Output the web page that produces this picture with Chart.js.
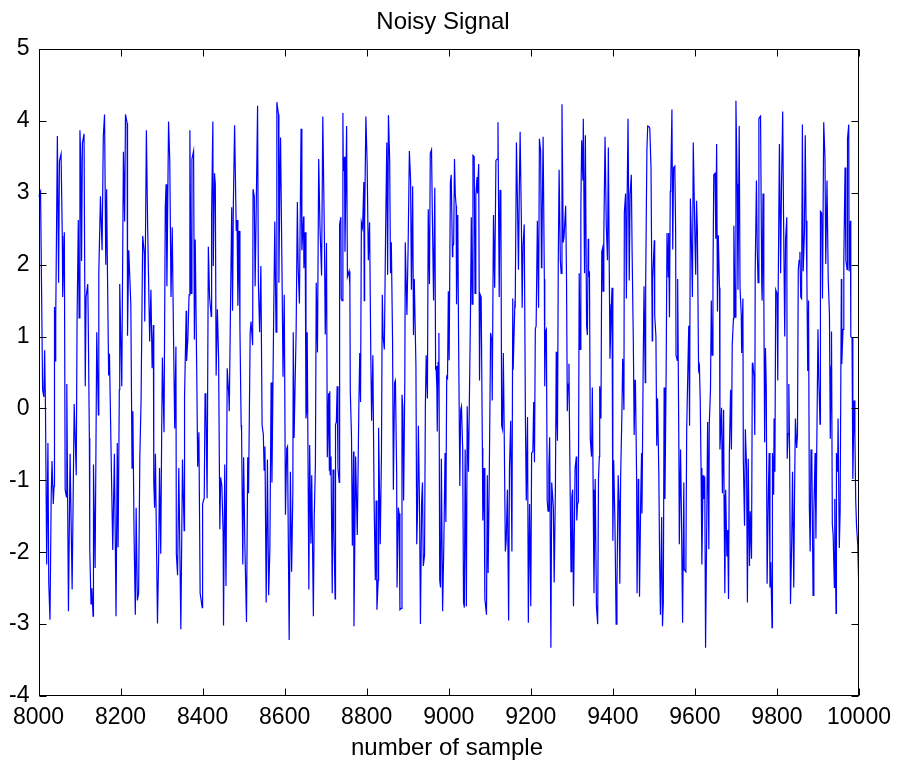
<!DOCTYPE html>
<html lang="en">
<head>
<meta charset="UTF-8">
<title>Noisy Signal</title>
<script src="https://cdn.jsdelivr.net/npm/chart.js"></script>
<style>
  html, body { margin: 0; padding: 0; background: #fff; }
  #wrap { width: 906px; height: 765px; }
</style>
</head>
<body>
<div id="wrap"><canvas id="myChart" width="906" height="765"></canvas></div>
<script>
// sample numbers (x) and signal amplitude (y)
const sampleNo = [
  8000,8005,8010,8013,8015,8017,8020,8023,8025,8028,
  8031,8033,8036,8038,8039,8041,8042,8046,8049,8051,
  8055,8058,8059,8063,8065,8068,8069,8073,8077,8082,
  8087,8092,8094,8097,8099,8101,8103,8105,8107,8111,
  8114,8116,8120,8121,8124,8125,8128,8130,8133,8134,
  8138,8142,8146,8147,8151,8155,8158,8161,8164,8166,
  8168,8171,8173,8177,8181,8185,8189,8192,8194,8197,
  8198,8203,8207,8210,8212,8216,8217,8220,8225,8228,
  8230,8233,8236,8238,8241,8244,8247,8250,8254,8258,
  8259,8263,8266,8268,8271,8274,8277,8280,8281,8283,
  8285,8290,8293,8295,8298,8300,8302,8306,8309,8311,
  8313,8317,8320,8323,8326,8328,8332,8335,8336,8339,
  8342,
  8347,8351,8355,8356,8360,8361,8364,8367,8369,8372,
  8374,8378,8380,8382,8386,8388,8391,8394,8399,8400,
  8402,8404,8406,8408,8411,8414,8417,8421,8422,8425,
  8426,8429,8431,8433,8436,8439,8442,8444,8447,8450,
  8451,8454,8457,8460,8464,8465,8468,8471,8473,8475,
  8478,8482,8484,8486,8489,8491,8494,8495,8498,8500,
  8503,8507,8510,8512,8516,8518,8522,8523,8526,8528,
  8531,8534,8536,8539,8542,8545,8548,8550,8552,8555,
  8558,8561,8564,8567,8569,8573,8576,8579,8581,8585,
  8586,8588,8590,8594,8596,8599,8602,8605,8607,8611,
  8614,8617,8620,8621,8623,8628,8631,8633,8636,8640,
  8642,8646,8647,8650,8652,8654,8655,8659,8661,8664,
  8666,8670,8672,8675,8677,8680,8683,8686,8690,8693,
  8697,8699,8702,8704,8707,8709,
  8710,8711,8713,8716,8718,8720,8723,8724,8726,8728,
  8730,8733,8734,8737,8738,8740,8742,8743,8746,8747,
  8751,8753,8757,8759,8760,8763,8765,8768,8769,8773,
  8777,8781,8783,8785,8787,8790,8793,8794,8795,8798,
  8801,8804,8807,8810,8812,8815,8818,8821,8823,8825,
  8828,8829,8833,8836,8838,8840,8843,8846,8849,8851,
  8853,8856,8858,8860,8863,8865,8868,8870,8873,8874,
  8877,8879,8881,8884,8886,8888,8890,8893,8894,8898,
  8901,8904,8907,8909,8912,8914,8916,8920,8922,8924,
  8926,8929,8931,8934,8936,8938,8941,8943,8945,8948,
  8950,8953,8955,8958,8960,8963,8966,8968,
  8969,8971,8972,8974,8976,8978,8980,8982,8985,8988,
  8991,8993,8995,8997,8999,9001,9004,9006,9009,9010,
  9012,9014,9016,9018,9019,9022,9024,9027,9029,9031,
  9034,9036,9038,9040,9043,9045,9048,9050,9053,9055,
  9057,9059,9062,9064,9066,9069,9070,9073,9075,9077,
  9079,9082,9083,9086,9088,9092,9094,9096,9099,9102,
  9105,9106,9109,9112,9115,9118,9120,9123,9125,9127,
  9129,9131,9133,9135,9138,9140,9143,9146,9148,9151,
  9154,9156,9157,9161,9162,9165,9167,9170,9172,9174,
  9177,9179,9181,9184,9187,9189,9192,9194,9197,9200,
  9202,9205,9207,9209,9211,9213,9216,9219,9221,9224,
  9226,
  9227,9228,9230,9233,9234,9236,9238,9240,9242,9244,
  9246,9249,9251,9255,9257,9260,9262,9263,9265,9267,
  9269,9272,9274,9276,9279,9281,9285,9287,9289,9291,
  9293,9295,9298,9300,9302,9304,9308,9311,9312,9314,
  9316,9318,9320,9322,9324,9327,9328,9331,9333,9336,
  9338,9340,9341,9343,9345,9348,9350,9352,9354,9357,
  9360,9363,9365,9367,9368,9371,9373,9375,9376,9378,
  9381,9384,9387,9389,9392,9393,9396,9398,9400,9402,
  9405,9408,9410,9413,9415,9417,9419,9422,9424,9427,
  9428,9431,9433,9435,9437,9440,9442,9445,9447,9450,
  9452,9454,9455,9458,9459,9462,9463,9465,9468,9470,
  9471,9474,9476,9479,9480,9483,
  9485,9488,9490,9493,9496,9497,9501,9502,9505,9507,
  9509,9512,9514,9516,9519,9521,9523,9525,9527,9530,
  9532,9535,9536,9538,9540,9541,9544,9546,9548,9551,
  9553,9554,9557,9558,9561,9562,9565,9567,9570,9573,
  9574,9578,9580,9583,9585,9587,9589,9591,9594,9596,
  9600,9602,9604,9606,9609,9611,9613,9615,9617,9620,
  9622,9624,9626,9629,9631,9634,9635,9638,9640,9642,
  9644,9646,9649,9651,9653,9655,9657,9660,9661,9665,
  9667,9670,9671,9673,9675,9678,9680,9682,9684,9687,
  9689,9691,9694,9695,9698,9700,9703,9705,9708,9710,
  9713,9714,9717,9718,9721,9723,9726,9728,9730,9733,
  9735,9738,9740,
  9741,9744,9746,9747,9750,9752,9754,9756,9759,9760,
  9763,9764,9766,9768,9770,9772,9774,9776,9779,9781,
  9783,9785,9788,9789,9792,9793,9795,9797,9800,9802,
  9803,9806,9809,9811,9814,9816,9819,9821,9824,9825,
  9827,9829,9831,9833,9836,9838,9841,9843,9845,9848,
  9850,9852,9854,9856,9858,9860,9862,9864,9867,9869,
  9871,9873,9875,9877,9879,9881,9883,9885,9888,9890,
  9893,9895,9897,9900,9902,9905,9906,9909,9911,9914,
  9917,9919,9922,9925,9928,9930,9932,9933,9935,9937,
  9940,9941,9944,9945,9948,9949,9952,9954,9957,9958,
  9961,9963,9966,9968,9971,9972,9975,9976,9979,9980,
  9983,9985,9988,9990,9992,9994,9997,10000
];

const amplitude = [
  2.95,3.02,0.26,0.16,0.81,0.01,-2.17,-0.48,-2.42,-2.94,
  -1.20,-0.73,-1.33,-1.08,1.41,0.66,1.26,3.79,1.75,3.44,
  3.54,2.40,1.55,2.45,-1.13,-1.23,0.34,-2.82,-0.63,-2.52,
  0.06,-0.93,1.21,2.62,1.26,3.87,3.49,2.05,3.69,3.82,
  0.31,1.55,1.73,1.36,-0.41,-1.97,-2.72,-2.50,-2.89,-0.78,
  -2.22,1.06,-0.09,1.88,2.95,2.20,3.79,4.09,2.00,3.05,
  1.95,0.46,0.76,-0.63,-1.97,-0.63,-2.89,-0.48,-1.93,0.26,
  1.73,0.31,3.57,2.60,4.09,3.97,1.01,2.20,1.46,-0.83,
  -0.04,-1.78,-2.87,-1.38,-2.67,-2.57,-0.68,0.11,2.40,2.15,
  1.21,3.87,2.55,1.90,0.93,1.65,0.56,1.16,-1.03,-1.38,
  -0.63,-2.99,-2.02,-0.83,-2.02,-0.53,0.71,-0.33,2.80,3.12,
  1.70,3.99,3.44,1.55,2.52,1.51,-0.28,0.86,-2.02,-2.32,
  -0.83,
  -3.07,-0.71,-1.70,0.16,1.36,0.66,0.96,1.58,3.87,1.60,
  3.47,3.58,0.96,2.35,0.36,-0.81,-0.33,-2.57,-2.77,-1.33,
  -1.28,-1.25,0.21,0.06,-1.25,2.25,1.55,1.28,2.72,3.99,
  1.98,3.27,3.12,0.46,1.38,0.71,-1.68,-0.96,-1.08,-1.73,
  -3.02,-0.78,-2.47,0.56,0.16,-0.04,1.41,2.80,1.36,2.85,
  3.94,2.47,2.62,1.43,2.47,1.11,-0.23,-0.31,-2.17,-0.68,
  -1.90,-2.97,-0.68,-1.18,1.06,1.21,0.88,3.05,2.95,1.70,
  2.90,4.21,1.73,1.06,1.98,-0.23,-0.36,-0.86,-0.53,-2.70,
  -0.71,-2.60,-1.95,0.36,-1.03,1.16,2.60,1.06,4.26,4.09,
  1.75,3.00,3.77,1.65,0.44,1.58,-1.48,-0.56,-0.53,-3.22,
  -0.88,-2.27,-1.15,1.06,-0.41,1.08,2.87,1.95,1.46,3.89,
  2.20,2.67,1.95,2.45,-0.14,0.01,1.06,-2.52,-0.51,-1.88,
  -0.93,-2.89,-1.53,-0.78,1.75,0.78,3.47,2.55,1.85,4.06,
  2.32,1.03,2.30,-0.68,0.21,-0.86,
  0.24,-0.93,-0.67,-2.57,-0.85,-1.69,-2.65,-0.22,-0.19,0.31,
  -0.83,-1.03,2.56,2.66,1.53,1.50,4.11,3.30,3.50,2.18,
  3.93,1.83,1.91,1.70,0.24,-0.40,-1.91,-0.60,-3.03,-0.67,
  -1.76,0.09,0.77,0.09,2.59,2.51,3.15,1.50,2.61,4.06,
  3.42,2.06,2.59,0.74,-0.17,0.74,-1.26,-2.39,-1.28,-2.80,
  -2.39,-0.27,-1.89,-0.62,1.58,1.00,0.82,2.41,3.70,1.86,
  4.08,3.45,1.88,2.31,0.97,-1.13,0.36,0.39,-0.88,-2.49,
  -1.38,-1.46,-2.80,-2.78,0.19,0.03,-1.28,0.44,2.31,1.30,
  2.26,3.58,3.17,1.65,3.09,1.02,1.80,0.59,-1.89,-1.43,
  -0.24,-1.46,-3.00,-1.28,-1.03,-2.19,-2.04,0.03,0.74,0.14,
  2.77,1.73,3.55,3.60,2.72,1.50,3.07,0.54,
  0.59,0.29,-0.32,0.64,1.05,-2.39,-2.49,-0.70,-2.82,-1.89,
  -0.62,-1.58,0.44,0.42,1.63,0.67,3.15,3.25,2.11,2.26,
  2.29,3.47,2.97,2.82,1.45,2.69,0.94,-1.08,-0.02,0.03,
  -0.57,-2.70,-2.77,-0.57,-2.75,0.03,-0.88,-0.02,1.35,2.66,
  1.45,3.52,3.50,1.60,2.97,3.22,2.99,3.40,0.39,1.58,
  1.55,-0.55,-1.56,-0.83,-2.65,-2.87,-0.93,-2.29,-0.80,1.05,
  0.94,0.11,2.69,1.68,3.45,3.47,3.98,1.55,3.04,2.92,
  -0.24,-0.29,0.77,-0.22,-1.99,-1.84,-1.13,-2.95,-0.83,-0.17,
  -1.99,1.53,0.54,1.43,1.40,3.70,3.04,1.93,3.07,3.85,
  2.61,1.40,2.26,2.56,-0.22,-1.28,-0.12,-2.98,-1.33,-2.75,
  -0.62,-0.60,0.09,-0.75,1.10,1.15,2.61,1.40,3.75,3.58,
  1.96,
  1.98,2.77,3.78,1.80,0.31,1.07,1.10,-1.28,-1.43,-0.83,
  -0.40,-3.33,-1.03,-1.38,-2.42,-1.10,0.79,-0.02,-0.45,2.06,
  3.32,2.06,1.88,4.23,2.31,2.39,2.82,1.86,-0.04,0.34,
  0.62,-0.62,-2.27,-1.23,-1.13,-2.75,-0.83,-0.67,-1.56,-1.33,
  -1.30,1.88,0.82,2.77,3.73,3.17,4.03,1.88,3.80,1.15,
  1.02,2.36,1.83,1.91,-0.42,-0.67,0.29,-1.13,-2.57,-0.98,
  -2.75,-3.00,-0.98,-0.67,0.31,-0.14,2.18,2.23,1.63,2.41,
  3.78,2.54,2.06,3.63,1.45,0.69,1.35,1.68,-1.84,-0.72,
  -1.56,-3.00,-2.47,-0.93,-1.28,-2.44,-0.95,-0.09,0.69,-0.02,
  2.72,2.99,1.53,2.99,4.03,1.78,2.97,3.25,2.16,0.89,
  -0.37,0.39,0.40,-0.98,-2.57,-0.98,-1.13,-2.62,-1.23,-0.62,
  -1.46,0.64,1.70,0.36,1.73,3.60,
  3.93,3.92,3.90,3.35,0.94,1.80,2.34,1.30,1.00,-0.52,
  0.14,-0.88,-2.09,-2.87,-1.51,-3.03,-2.70,0.29,-1.26,0.57,
  2.44,1.83,2.44,1.27,3.02,3.07,4.16,2.21,3.35,3.37,
  2.51,0.74,0.67,1.80,-0.62,-1.89,-0.57,-1.38,-2.98,-1.03,
  -2.24,-2.27,-0.29,0.59,1.15,-0.24,2.92,2.46,1.55,3.70,
  2.39,1.86,2.89,2.49,0.54,0.59,0.11,-0.83,-2.17,-0.93,
  -1.26,-0.95,-3.33,-1.51,-0.19,-1.96,-0.22,0.26,1.50,0.74,
  1.80,3.25,3.27,2.36,3.68,1.35,2.41,1.68,-0.57,0.01,
  -1.18,-0.02,-1.20,-2.57,-1.13,-2.06,-1.69,-2.65,-0.62,0.26,
  -0.57,0.89,1.25,2.54,1.27,4.28,3.12,1.65,3.93,1.68,
  1.30,0.77,1.53,-0.70,-1.63,-0.29,-0.85,-2.70,-0.70,-2.19,
  -1.43,-2.09,0.62,
  0.64,0.44,-0.37,1.91,3.17,2.21,1.75,4.03,4.06,4.08,
  1.70,1.50,2.99,1.60,-0.47,0.84,0.29,-2.44,-1.18,-0.62,
  -2.49,-2.14,-3.05,-0.62,-1.20,-0.14,-0.88,1.65,1.60,0.39,
  1.62,3.68,1.88,3.07,4.13,2.72,1.00,2.36,2.66,-0.70,
  -0.35,0.34,-0.72,-2.72,-1.84,-0.88,-2.49,-1.13,-0.14,-0.55,
  -0.37,1.93,2.06,2.18,1.55,1.53,3.95,1.91,2.46,3.80,
  2.61,1.80,0.52,1.50,-1.38,-1.99,-0.57,-0.67,-2.60,-1.43,
  -0.62,-1.81,-0.57,1.10,0.41,-0.22,2.74,2.72,1.53,3.98,
  3.50,2.01,3.17,1.80,1.30,-0.42,0.59,1.07,-1.61,-1.76,
  -2.49,-1.26,-2.85,-0.62,-0.88,-0.14,-1.94,-1.43,1.80,0.62,
  1.10,2.06,3.35,2.06,1.93,3.75,3.95,1.91,2.61,1.00,
  0.98,-0.98,0.11,-0.37,-1.28,-1.63,-1.90,-2.62
];

const xTicks = [8000, 8200, 8400, 8600, 8800, 9000, 9200, 9400, 9600, 9800, 10000];
const yTicks = [-4, -3, -2, -1, 0, 1, 2, 3, 4, 5];

const chartTitle = 'Noisy Signal';
const xAxisTitle = 'number of sample';

if (sampleNo.length !== amplitude.length) {
    console.warn('length mismatch', sampleNo.length, amplitude.length);
}

const FONT = "'Liberation Sans', Arial, Helvetica, sans-serif";

// matlab style box with inward ticks, plus title and x label
const matlabFrame = {
    id: 'matlabFrame',
    afterDraw(chart) {
        const { ctx, chartArea, scales } = chart;
        const L = Math.round(chartArea.left) + 0.5;
        const R = Math.round(chartArea.right) - 0.5;
        const T = Math.round(chartArea.top) + 0.5;
        const B = Math.round(chartArea.bottom) - 0.5;
        const tick = 7;

        ctx.save();
        ctx.strokeStyle = '#000';
        ctx.lineWidth = 1;
        ctx.strokeRect(L, T, R - L, B - T);

        ctx.beginPath();
        xTicks.forEach(v => {
            const px = Math.round(scales.x.getPixelForValue(v)) + 0.5;
            ctx.moveTo(px, B); ctx.lineTo(px, B - tick);
            ctx.moveTo(px, T); ctx.lineTo(px, T + tick);
        });
        yTicks.forEach(v => {
            const py = Math.round(scales.y.getPixelForValue(v)) + 0.5;
            ctx.moveTo(L, py); ctx.lineTo(L + tick, py);
            ctx.moveTo(R, py); ctx.lineTo(R - tick, py);
        });
        ctx.stroke();

        ctx.fillStyle = '#000';
        ctx.textAlign = 'center';
        ctx.textBaseline = 'alphabetic';
        ctx.font = '24px ' + FONT;
        ctx.fillText(chartTitle, 443, 29);
        ctx.fillText(xAxisTitle, 447, 755);
        ctx.restore();
    }
};

const points = sampleNo.map((s, i) => ({ x: s, y: amplitude[i] }));

const ctx = document.getElementById('myChart').getContext('2d');
new Chart(ctx, {
    type: 'line',
    data: {
        datasets: [{
            data: points,
            borderColor: '#0000ff',
            borderWidth: 1.2,
            pointRadius: 0,
            tension: 0,
            fill: false
        }]
    },
    options: {
        responsive: false,
        animation: false,
        layout: { padding: { top: 49, right: 47, bottom: 0, left: 0 } },
        plugins: {
            legend: { display: false },
            tooltip: { enabled: false },
            title: { display: false }
        },
        scales: {
            x: {
                type: 'linear',
                min: 8000,
                max: 10000,
                afterBuildTicks: s => { s.ticks = xTicks.map(v => ({ value: v })); },
                afterFit: s => { s.height = 69; },
                grid: { display: false, drawTicks: false },
                border: { display: false },
                ticks: {
                    color: '#000',
                    padding: 8,
                    maxRotation: 0,
                    autoSkip: false,
                    font: { family: FONT, size: 23 },
                    callback: v => String(v)
                }
            },
            y: {
                min: -4,
                max: 5,
                afterBuildTicks: s => { s.ticks = yTicks.map(v => ({ value: v })); },
                afterFit: s => { s.width = 38.5; },
                grid: { display: false, drawTicks: false },
                border: { display: false },
                ticks: {
                    color: '#000',
                    padding: 9,
                    autoSkip: false,
                    font: { family: FONT, size: 23 },
                    callback: v => String(v)
                }
            }
        }
    },
    plugins: [matlabFrame]
});
</script>
</body>
</html>
